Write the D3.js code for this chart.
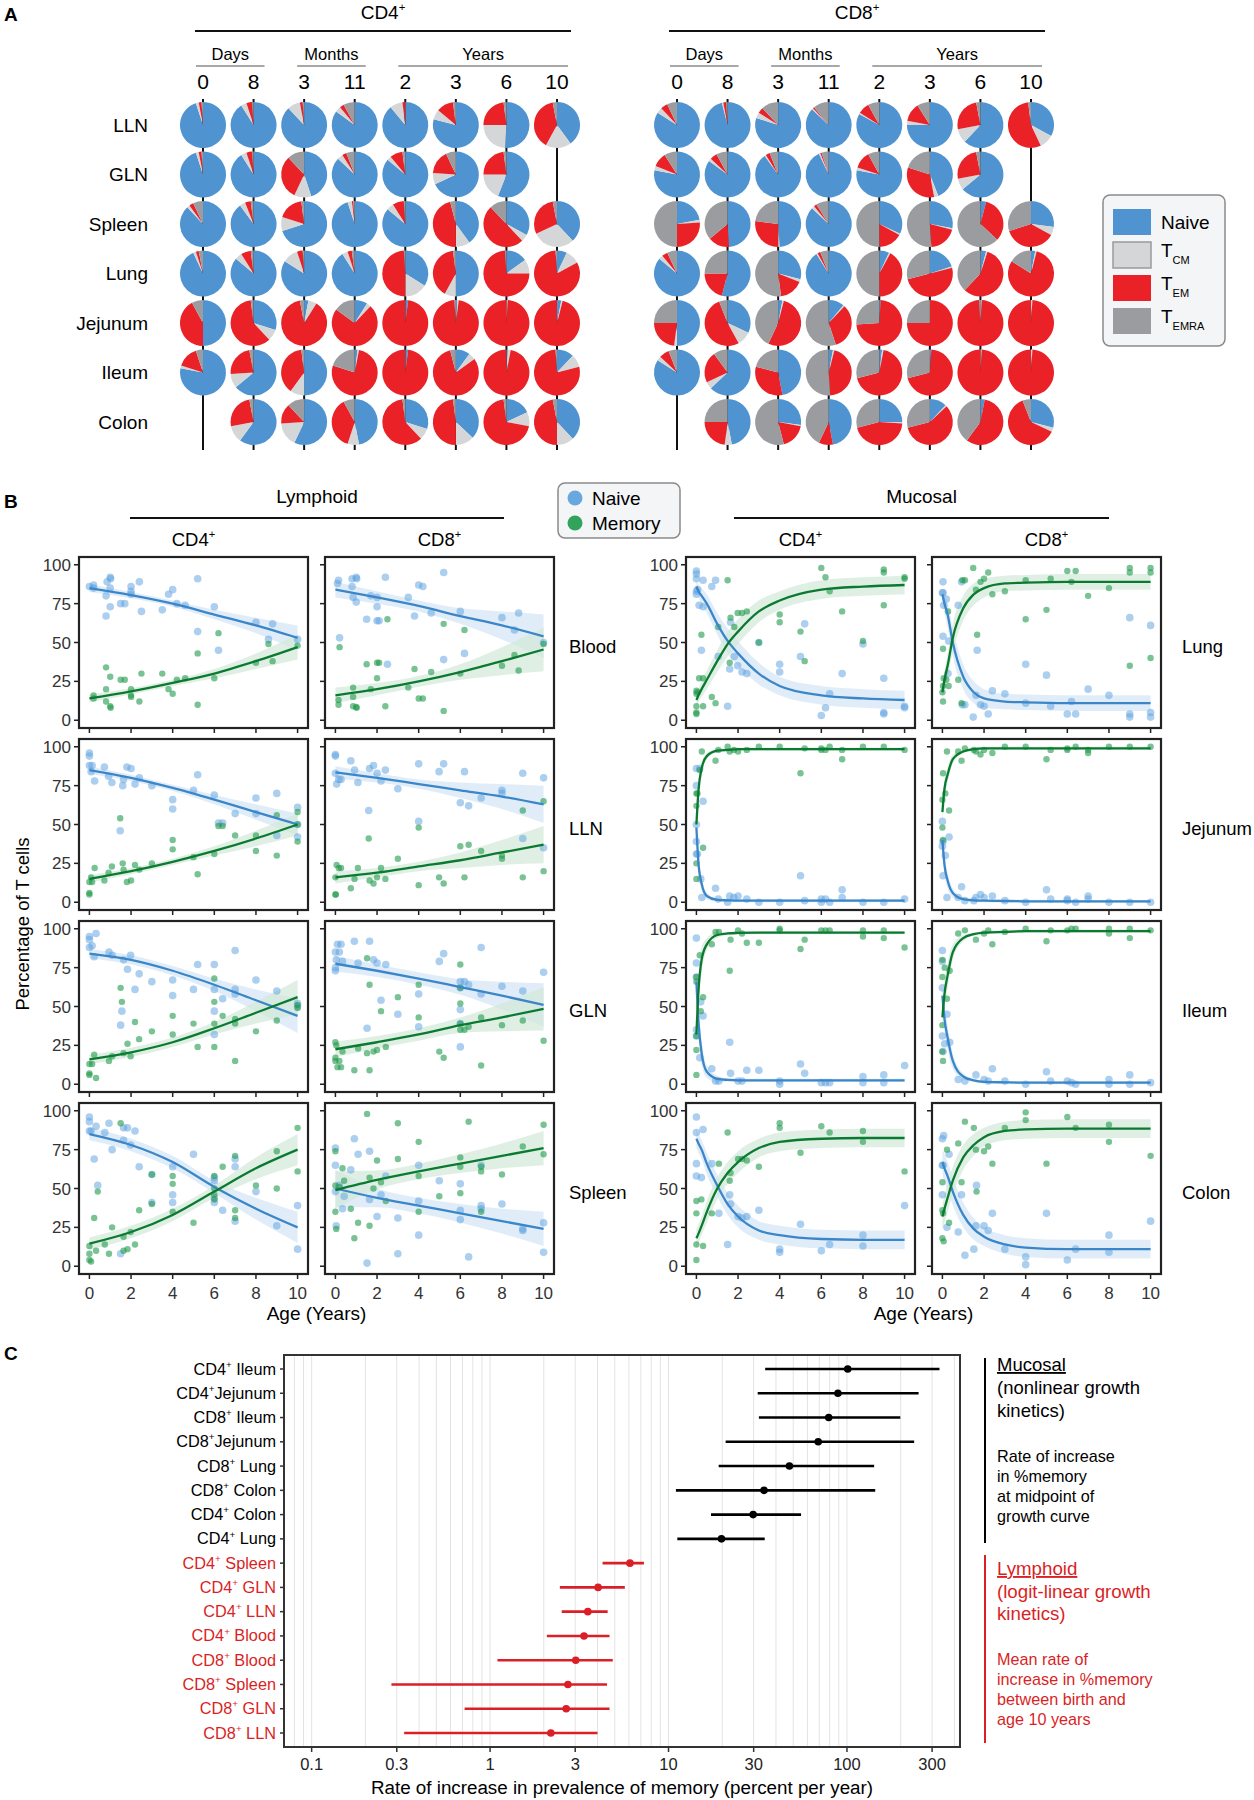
<!DOCTYPE html>
<html><head><meta charset="utf-8">
<script src="https://cdn.jsdelivr.net/npm/d3@7"></script>
<style>body{margin:0;background:#fff}text{font-family:"Liberation Sans",Arial,Helvetica,sans-serif}</style>
</head><body><svg id="c" width="1254" height="1800"></svg>
<script>
// ================= DATA =================
// Panel A
const pieTissues = ["LLN","GLN","Spleen","Lung","Jejunum","Ileum","Colon"];
const pieTimes = ["0","8","3","11","2","3","6","10"];
const pieGroupNames = ["Days","Months","Years"];
const pieGroupFrom = [0,2,4];
const pieGroupTo = [1,3,7];
const subsets = ["Naive","TCM","TEM","TEMRA"];
const subsetColors = ["#4f94d0","#d4d6d7","#ea2127","#9b9ca0"];
// [Naive, TCM, TEM, TEMRA] per tissue (rows) x time (cols)
const cd4Pies = [
 [[95,2,2,1],[91,4,4,1],[88,9,2,1],[85,4,3,8],[89,9,2,0],[79,7,12,2],[51,24,23,2],[40,18,39,3]],
 [[95,2,2,1],[91,4,4,1],[45,12,31,12],[87,4,3,6],[86,3,9,2],[68,8,17,7],[56,19,23,2],null],
 [[88,2,3,7],[90,4,4,2],[70,10,18,2],[95,3,1,1],[86,5,8,1],[40,10,46,4],[33,5,50,12],[38,30,29,3]],
 [[93,2,2,3],[86,5,7,2],[84,11,4,1],[91,4,3,2],[34,16,49,1],[50,8,40,2],[15,10,74,1],[7,10,82,1]],
 [[50,0,42,8],[30,8,60,2],[3,6,88,3],[9,3,73,15],[2,0,98,0],[1,1,97,1],[0,1,99,0],[3,1,96,0]],
 [[78,2,15,5],[64,10,23,3],[50,10,38,2],[2,1,77,20],[2,0,98,0],[10,5,81,4],[1,2,97,0],[12,9,78,1]],
 [null,[60,12,25,3],[57,17,14,12],[47,8,37,8],[30,8,60,2],[37,13,48,2],[18,10,70,2],[38,12,47,3]]
];
const cd8Pies = [
 [[84,4,5,7],[96,1,2,1],[80,4,4,12],[87,1,1,11],[83,1,8,8],[75,3,13,9],[62,10,25,3],[33,10,55,2]],
 [[78,3,10,9],[85,2,5,8],[90,1,3,6],[93,1,1,5],[78,2,12,8],[44,3,33,20],[64,8,25,3],null],
 [[22,2,26,50],[49,0,15,36],[49,1,27,23],[87,2,2,9],[32,1,17,50],[28,1,20,51],[4,0,33,63],[27,6,37,30]],
 [[86,3,4,7],[54,0,21,25],[29,2,17,52],[91,1,2,6],[7,1,42,50],[20,1,50,29],[4,1,57,38],[3,1,80,16]],
 [[50,2,23,25],[32,10,52,6],[3,1,53,43],[11,1,33,55],[1,0,73,26],[0,0,75,25],[0,1,98,1],[0,1,99,0]],
 [[84,3,7,6],[63,5,22,10],[47,0,32,21],[3,1,45,51],[2,1,68,29],[1,0,70,29],[0,1,99,0],[0,1,99,0]],
 [null,[47,5,23,25],[27,1,18,54],[47,0,10,43],[25,1,45,29],[12,1,58,29],[3,0,57,40],[29,3,62,6]]
];

// Panel B
const lymphTissues = ["Blood","LLN","GLN","Spleen"];
const mucTissues = ["Lung","Jejunum","Ileum","Colon"];
const yTicksB = [0,25,50,75,100];
const xTicksB = [0,2,4,6,8,10];
const lymphAges = [0,2,4,6,8,10];
const mucAges = [0,0.1,0.25,0.5,1,1.5,2,3,4,6,8,10];

const bloodCD4N = [[0,86],[0.2,87],[0.2,85],[0.85,89],[1,92],[1.02,91],[0.8,80],[0.8,67],[1,73],[1,85],[1.5,75],[1.7,75],[2,86],[2,83],[2,81],[2.4,89],[2.5,70],[3.5,71],[3.8,81],[4,84],[4.2,75],[4.6,74],[5.2,91],[5.2,57],[6,73],[6.2,45],[8,63],[8.8,62],[8.6,52],[10,52]];
const bloodCD4M = [[0.2,16],[0.2,14],[0.8,34],[1,28],[0.8,20],[0.8,12],[1,9],[1.02,8],[1.5,26],[1.7,26],[2,20],[2,16],[2,15],[2.4,12],[2.5,30],[3.5,30],[3.8,20],[4,17],[4.2,26],[4.6,27],[5.2,43],[5.2,10],[6,27],[6.2,56],[8,37],[8.6,49],[8.8,38],[10,48]];
const bloodCD8N = [[0.1,88],[0.15,90],[0.2,53],[0.8,91],[1,92],[1.02,91],[0.8,86],[0.85,79],[1,76],[1.5,65],[1.7,80],[2,79],[2,73],[2,64],[2.1,64],[2.4,92],[2.5,36],[3.5,79],[3.8,67],[4,87],[4.2,86],[4.6,69],[5.2,95],[5.2,39],[6,70],[6.2,43],[8,66],[8.6,58],[8.8,69],[10,50]];
const bloodCD8M = [[0.15,13],[0.15,10],[0.2,47],[0.85,21],[0.85,15],[0.85,9],[1,8.5],[1.02,8],[1.5,36],[1.7,20],[2,37],[2,27],[2.1,37],[2.4,9],[2.5,65],[3.5,21],[3.8,33],[4,14],[4.2,14],[4.6,31],[5.2,62],[5.2,6],[6,30],[6.2,58],[8,35],[8.6,42],[8.8,32],[10,49]];
const llnCD4N = [[0,96],[0,94],[0,88],[0.13,88],[0.08,84],[0.25,78],[0.72,87],[0.92,81],[1.08,77],[1.48,46],[1.6,75],[1.64,79],[1.8,87],[2,86],[2.19,76],[2.4,80],[3,75],[4,66],[4,60],[5.2,82],[5,72],[6,69],[6.2,51],[6.4,51],[7,57],[8,67],[8,57],[9,70],[9,43],[10,61],[10,50],[10,42]];
const llnCD4M = [[0,6],[0,5],[0,13],[0.13,13],[0.08,16],[0.25,22],[0.72,14],[0.92,19],[1.08,23],[1.48,54],[1.6,25],[1.64,21],[1.8,13],[2,14],[2.19,24],[2.4,21],[3,25],[4,40],[4,34],[5.2,18],[5,29],[6,31],[6.2,49],[6.4,49],[7,43],[8,43],[8,33],[9,56],[9,30],[10,58],[10,50],[10,39]];
const llnCD8N = [[0,95],[0,94],[0,83],[0.06,76],[0.16,79],[0.27,79],[0.74,91],[0.92,85],[1.08,77],[1.6,59],[1.64,86],[1.83,88],[2,83],[2.19,78],[2.4,85],[3,73],[4,89],[4,52],[4.98,84],[5.2,89],[6,64],[6.2,84],[6.4,62],[7,67],[8,72],[8,70],[9,83],[9,41],[10,80],[10,35]];
const llnCD8M = [[0,5],[0.02,5],[0,16],[0.06,24],[0.16,22],[0.27,22],[0.74,9],[0.92,15],[1.08,22],[1.6,41],[1.64,14],[1.83,12],[2,16],[2.19,22],[2.4,15],[3,28],[4,11],[4,48],[4.98,16],[5.2,12],[6,36],[6.2,16],[6.4,37],[7,33],[8,30],[8,28],[9,16],[9,59],[10,20],[10,65]];
const glnCD4N = [[0,95],[0,93],[0,88],[0.13,89],[0.23,82],[0.32,97],[0.94,85],[1.09,83],[1.56,47],[1.5,38],[1.64,80],[1.83,74],[1.98,83],[2.19,61],[2.39,71],[3,66],[4,67],[4,57],[5,61],[5.2,77],[6,77],[6,61],[6,47],[6,32],[6.4,55],[7,86],[7,61],[7,58],[8,67],[9,60],[10,52],[10,50]];
const glnCD4M = [[0,7],[0,6],[0,13],[0.13,13],[0.23,19],[0.32,4],[0.94,15],[1.09,18],[1.5,62],[1.56,53],[1.64,20],[1.83,26],[1.98,18],[2.19,40],[2.39,29],[3,34],[4,44],[4,32],[5,39],[5.2,24],[6,53],[6,68],[6,39],[6,24],[6.4,44],[7,42],[7,39],[7,15],[8,34],[9,41],[10,49],[10,51]];
const glnCD8N = [[0,85],[0.04,80],[0,73],[0,75],[0.1,90],[0.19,85],[0.27,90],[0.34,79],[0.91,92],[1.09,78],[1.52,36],[1.64,92],[1.83,80],[2,78],[2.19,54],[2.42,77],[3,45],[4,58],[4,37],[4.99,79],[5.2,84],[6,66],[6,62],[6,48],[6,39],[6,24],[6.2,66],[6.4,64],[7,88],[7,58],[8,63],[9,60],[10,72]];
const glnCD8M = [[0,27],[0.04,25],[0,17],[0,15],[0.1,11],[0.19,15],[0.27,11],[0.34,21],[0.91,9],[1.09,23],[1.52,20],[1.52,81],[1.64,9],[1.64,64],[1.83,21],[2,22],[2.19,47],[2.42,24],[3,56],[4,64],[4,43],[4.99,21],[5.2,17],[6,77],[6,62],[6,52],[6,39],[6,35],[6.2,35],[6.4,37],[7,43],[7,12],[8,38],[9,41],[10,28]];
const spleenCD4N = [[0,96],[0,93],[0,87],[0.08,87],[0.23,69],[0.32,90],[0.4,52],[0.74,86],[0.94,92],[1.09,75],[1.5,8],[1.64,81],[1.64,89],[1.83,89],[1.98,78],[2.19,87],[2.39,64],[3,59],[3,41],[4,64],[4,46],[4,41],[5,72],[6,57],[6,55],[6,44],[6,41],[6.4,36],[7,69],[7,64],[7,29],[8,48],[9,26],[10,39],[10,11]];
const spleenCD4M = [[0,13],[0,8],[0,4],[0.08,3],[0.23,31],[0.32,10],[0.4,48],[0.74,14],[0.94,8],[1.09,25],[1.5,92],[1.64,19],[1.64,10],[1.83,11],[1.98,22],[2.19,14],[2.39,36],[3,59],[3,40],[4,58],[4,53],[4,35],[5,28],[6,58],[6,50],[6,46],[6,43],[6.4,64],[7,71],[7,36],[7,31],[8,52],[9,74],[9,50],[10,89],[10,61]];
const spleenCD8N = [[0,76],[0,65],[0,48],[0.04,26],[0.19,52],[0.34,37],[0.42,45],[0.74,62],[0.91,82],[1.09,72],[1.52,2],[1.64,74],[1.64,43],[2,32],[2.19,46],[2.42,58],[3,31],[3,8],[4,65],[4,42],[4,20],[4.99,55],[6,53],[6,36],[6,30],[6.4,6],[7,65],[7,39],[7,37],[8,40],[9,24],[9,23],[10,28],[10,9]];
const spleenCD8M = [[0,74],[0,35],[0.04,24],[0,52],[0.19,51],[0.34,63],[0.42,55],[0.74,37],[0.91,18],[1.09,28],[1.52,98],[1.64,57],[1.64,26],[1.83,50],[2,68],[2.19,54],[2.42,42],[3,92],[3,69],[4,80],[4,58],[4,35],[4.99,45],[6,70],[6,64],[6,47],[6.4,93],[7,64],[7,61],[7,35],[8,59],[9,77],[10,91],[10,72]];
const lungCD4N = [[0,96],[0,94],[0,91],[0,83],[0,81],[0.06,84],[0.13,74],[0.24,45],[0.32,90],[0.32,73],[0.74,86],[0.92,90],[1.05,41],[1.5,9],[1.6,33],[1.64,63],[1.82,41],[1.98,35],[2.19,31],[2.42,30],[3,50],[4,36],[4,31],[5,41],[5.2,62],[6,3],[6.2,8],[6.4,17],[7,30],[8,49],[9,27],[9,5],[9,4],[10,9],[10,8]];
const lungCD4M = [[0,9],[0,5],[0,4],[0,19],[0,17],[0.06,18],[0.13,27],[0.24,55],[0.32,27],[0.32,9],[0.74,15],[0.92,11],[1.05,60],[1.5,90],[1.6,37],[1.64,66],[1.82,60],[1.98,69],[2.19,69],[2.42,70],[3,50],[4,68],[4,63],[5,57],[5.2,38],[6,98],[6.2,92],[6.4,83],[7,70],[8,51],[9,74],[9,97],[9,95],[10,92],[10,91]];
const lungCD8N = [[0.03,89],[0,82],[0.03,82],[0.03,54],[0.06,74],[0.19,78],[0.27,30],[0.3,51],[0.76,74],[0.92,89],[0.96,10],[1.08,10],[1.48,2],[1.61,16],[1.67,45],[1.83,10],[2,9],[2.2,4],[2.4,19],[3,17],[4,36],[4,11],[5,29],[5.2,9],[6,4],[6.2,12],[6.4,4],[7,20],[8,16],[9,66],[9,4],[9,2],[10,61],[10,5],[10,2]];
const lungCD8M = [[0.03,22],[0,18],[0.03,46],[0.03,12],[0.06,27],[0.19,26],[0.27,70],[0.3,22],[0.76,26],[0.92,11],[0.96,90],[1.08,90],[1.48,98],[1.61,84],[1.67,55],[1.83,89],[2,91],[2.2,95],[2.4,81],[3,83],[4,90],[4,65],[5,71],[5.2,91],[6,96],[6.2,89],[6.4,96],[7,80],[8,85],[9,35],[9,98],[9,95],[10,40],[10,98],[10,95]];
const jejCD4N = [[0,75],[0,86],[0,50],[0,39],[0,31],[0.05,31],[0.16,86],[0.21,15],[0.32,65],[0.26,3],[0.92,9],[1.05,2],[1.5,0],[1.6,4],[1.8,3],[2,4],[2.42,2],[3,0],[4,0],[5.2,1],[5,17],[6,2],[6,0],[6.2,2],[6.4,0],[7,3],[7,8],[8,0],[9,0],[10,2]];
const jejCD4M = [[0,25],[0,15],[0,62],[0,70],[0.05,70],[0.16,85],[0.26,97],[0.32,35],[0.92,91],[1.05,98],[1.5,100],[1.6,97],[1.8,98],[2,97],[2.42,98],[3,100],[4,100],[5.2,99],[5,83],[6,99],[6,98],[6.2,98],[6.4,100],[7,98],[7,92],[8,100],[9,100],[10,98]];
const jejCD8N = [[0,52],[0,36],[0.03,39],[0.03,17],[0.14,30],[0.22,3],[0.32,42],[0.76,3],[0.92,10],[1.08,1],[1.51,1],[1.61,3],[1.83,5],[2,3],[2.4,4],[3,1],[4,0],[5,8],[5.2,2],[6,2],[6,1],[6.4,0],[7,4],[7,2],[8,0],[9,0],[10,0]];
const jejCD8M = [[0,66],[0,48],[0.03,40],[0.03,83],[0.14,70],[0.22,97],[0.32,59],[0.76,97],[0.92,91],[1.08,99],[1.51,98],[1.61,97],[1.83,95],[2,98],[2.4,96],[3,100],[4,100],[5,92],[5.2,98],[6,99],[6,98],[6.4,100],[7,98],[7,96],[8,100],[9,100],[10,100]];
const ileCD4N = [[0,94],[0,78],[0,69],[0,35],[0,31],[0.16,17],[0.21,53],[0.32,44],[0.74,10],[0.92,2],[1.08,2],[1.6,27],[1.64,7],[2,2],[2.19,2],[2.42,9],[3,9],[4,2],[4,0],[5,13],[5.2,7],[6,1],[6.2,1],[6.4,1],[8,5],[8,1],[9,6],[9,1],[10,12]];
const ileCD4M = [[0,6],[0,66],[0,69],[0,31],[0,22],[0.16,83],[0.21,47],[0.32,56],[0.74,90],[0.92,98],[1.08,98],[1.6,73],[1.64,93],[2,99],[2.19,97],[2.42,91],[3,91],[4,100],[4,99],[5,87],[5.2,93],[6,99],[6.2,99],[6.4,99],[8,99],[8,95],[9,99],[9,94],[10,88]];
const ileCD8N = [[0,86],[0,79],[0,62],[0,31],[0.03,21],[0.11,26],[0.22,45],[0.35,27],[0.76,3],[1.08,2],[1.61,6],[2,3],[2.2,2],[2.4,10],[3,2],[4,0],[5,8],[5.2,2],[6,2],[6.2,1],[6.4,0],[8,3],[8,0],[9,6],[9,0],[10,1]];
const ileCD8M = [[0,69],[0,80],[0,38],[0,21],[0.03,15],[0.11,75],[0.22,55],[0.35,73],[0.76,97],[1.08,99],[1.61,93],[2,97],[2.2,99],[2.4,90],[3,98],[4,100],[5,92],[5.2,99],[6,99],[6.2,100],[6.4,100],[8,100],[8,97],[9,100],[9,94],[10,99]];
const colCD4N = [[0,96],[0,86],[0,66],[0,58],[0.24,57],[0.32,88],[0.74,66],[1.08,34],[1.5,14],[1.6,46],[1.64,40],[2,32],[2.19,31],[2.42,32],[3,36],[4,11],[4,9],[5,27],[6,10],[6.4,14],[8,20],[8,13],[10,39]];
const colCD4M = [[0,4],[0,14],[0,42],[0,34],[0.24,43],[0.32,13],[0.74,34],[1.08,66],[1.5,86],[1.6,55],[1.64,60],[2,69],[2.19,69],[2.42,68],[3,64],[4,92],[4,89],[5,73],[6,90],[6.4,86],[8,87],[8,80],[10,61]];
const colCD8N = [[0,82],[0.06,84],[0,65],[0.03,65],[0,46],[0.22,25],[0.32,72],[0.76,22],[0.92,46],[1.08,7],[1.51,11],[1.64,52],[1.61,26],[2,26],[2.2,23],[2.4,34],[3,11],[4,6],[4,1],[5,34],[6,4],[6.4,11],[8,20],[8,9],[10,29]];
const colCD8M = [[0,18],[0.06,16],[0,36],[0.03,34],[0,54],[0.22,75],[0.32,28],[0.76,79],[0.92,54],[1.08,93],[1.51,89],[1.64,48],[1.61,75],[2,74],[2.2,77],[2.4,66],[3,89],[4,99],[4,94],[5,66],[6,96],[6.4,89],[8,91],[8,80],[10,71]];

// fitted curves (read at lymphAges / mucAges) and CI half-widths
const bloodCD4FitN=[85,80.5,75,68,61,53], bloodCD4FitM=[14,18.5,24,30,38,47], bloodCD4Ci=[2.5,2,2,3,5,8];
const bloodCD8FitN=[84,79,73.5,67,61,54], bloodCD8FitM=[16,20,25,31,38,45.5], bloodCD8Ci=[5,4,3.5,5,9,14];
const llnCD4FitN=[85,80,73.5,66,58,50], llnCD4FitM=[15,20,26,33,41,50], llnCD4Ci=[2.5,2,2,3,5,7];
const llnCD8FitN=[83.5,80,76,72,68,63], llnCD8FitM=[16,19,23,27,32,37], llnCD8Ci=[4,3,3,5,8,12];
const glnCD4FitN=[84,80,73,64,54,44], glnCD4FitM=[16,20.5,27,36,46,56], glnCD4Ci=[3,3,3,4,7,11];
const glnCD8FitN=[77.5,73,68,62.5,57,51], glnCD8FitM=[22.5,27,32,38,43,48.5], glnCD8Ci=[5,4,4,5,9,14];
const spleenCD4FitN=[85,78,67,51,37,25], spleenCD4FitM=[14.5,22,33,48,63,75], spleenCD4Ci=[4,4,4,4,7,10];
const spleenCD8FitN=[50,44,39,34,29,24], spleenCD8FitM=[49,55.5,61,66,71,76], spleenCD8Ci=[12,6,5,6,8,11];
const lungCD4FitN=[86,83,80,75,62,51,43,30,22,16,14,13], lungCD4FitM=[13,16,20,26,38,49,57,70,77,84,86,87], lungCD4Ci=[4,4,5,6,7,8,8,7,6,6,6,6];
const lungCD8FitN=[81,75,68,50,28,18,14,12,11.5,11,11,11], lungCD8FitM=[18,26,35,53,72,81,85,88,88.5,89,89,89], lungCD8Ci=[4,6,8,9,8,7,6,5,5,5,5,5];
const jejCD4FitN=[48,25,12,4,1.5,1.2,1,1,1,1,1,1], jejCD4FitM=[50,72,86,94,97.5,98,98.5,98.5,98.5,98.5,98.5,98.5], jejCD4Ci=[5,6,4,2,1,1,1,1,1,1,1,1];
const jejCD8FitN=[40,24,14,6,2,1.2,1,0.8,0.6,0.5,0.5,0.5], jejCD8FitM=[58,73,82,92,97,98.5,99,99,99,99,99,99], jejCD8Ci=[5,6,5,3,1,1,1,1,1,1,1,1];
const ileCD4FitN=[66,40,20,8,3.5,2.8,2.5,2.5,2.5,2.5,2.5,2.5], ileCD4FitM=[32,60,80,90,96,97,97.3,97.5,97.5,97.5,97.5,97.5], ileCD4Ci=[6,8,8,4,2,1,1,1,1,1,1,1];
const ileCD8FitN=[57,42,30,15,5,2.5,1.5,1.2,1,1,1,1], ileCD8FitM=[43,58,70,85,94,96.5,97.5,98,98.5,98.5,98.5,98.5], ileCD8Ci=[6,8,8,5,2,1,1,1,1,1,1,1];
const colCD4FitN=[82,79,75,66,52,40,32,23,20,17.5,17,17], colCD4FitM=[18,21,26,35,50,60,67,76,80,82,82.5,82.5], colCD4Ci=[6,6,6,7,7,7,7,6,6,6,6,6];
const colCD8FitN=[67,63,58,48,33,24,19,14,12,11,11,11], colCD8FitM=[32,37,44,55,70,78,83,87,88,88.5,88.5,88.5], colCD8Ci=[8,9,9,9,8,7,6,6,6,6,6,6];

// Panel C
const rateLabels = ["CD4+ Ileum","CD4+Jejunum","CD8+ Ileum","CD8+Jejunum","CD8+ Lung","CD8+ Colon","CD4+ Colon","CD4+ Lung",
  "CD4+ Spleen","CD4+ GLN","CD4+ LLN","CD4+ Blood","CD8+ Blood","CD8+ Spleen","CD8+ GLN","CD8+ LLN"];
const rateEst  = [101,89,79,69,47.6,34.3,29.8,19.8,6.08,4.03,3.53,3.36,3.02,2.73,2.67,2.19];
const rateLow  = [34.8,31.6,32.1,20.9,19.1,11.0,17.3,11.2,4.27,2.46,2.52,2.08,1.10,0.28,0.72,0.33];
const rateHigh = [330,252,199,238,142,144,55.3,34.6,7.28,5.69,4.56,4.67,4.87,4.52,4.67,4.0];
const rateGroup = ["mucosal","mucosal","mucosal","mucosal","mucosal","mucosal","mucosal","mucosal",
  "lymphoid","lymphoid","lymphoid","lymphoid","lymphoid","lymphoid","lymphoid","lymphoid"];
const rateTicks = [0.1,0.3,1,3,10,30,100,300];
const mucosalNote = ["Rate of increase","in %memory","at midpoint of","growth curve"];
const lymphoidNote = ["Mean rate of","increase in %memory","between birth and","age 10 years"];

// ================= DRAWING =================
const svg = d3.select("#c");
const RED = "#da1f26";
function txt(g, x, y, str, o) {
  o = o || {};
  const fs = o.size || 16;
  const t = g.append("text").attr("x", x).attr("y", y).attr("font-size", fs)
    .attr("fill", o.fill || "#000").attr("text-anchor", o.anchor || "start");
  if (o.weight) t.attr("font-weight", o.weight);
  if (o.deco) t.attr("text-decoration", o.deco);
  if (o.transform) t.attr("transform", o.transform);
  const parts = str.split("+");
  parts.forEach((p, i) => {
    if (i > 0) {
      t.append("tspan").attr("font-size", fs * 0.6).attr("dy", -fs * 0.42).text("+");
      if (p !== "") t.append("tspan").attr("font-size", fs).attr("dy", fs * 0.42).text(p);
    } else if (p !== "") t.append("tspan").attr("font-size", fs).text(p);
  });
  return t;
}

// ---------- Panel A ----------
const gA = svg.append("g");
txt(gA, 4, 21, "A", {size: 19, weight: "bold"});
const pieGen = d3.pie().sort(null).value(d => d);
const arcGen = d3.arc().innerRadius(0).outerRadius(23);
const rowY = d3.scalePoint().domain(pieTissues).range([125, 422]);
function pieBlock(data, xr, header) {
  const colX = d3.scalePoint().domain(d3.range(pieTimes.length)).range(xr);
  const first = colX(0), last = colX(pieTimes.length - 1);
  gA.append("line").attr("x1", first - 8).attr("x2", last + 14).attr("y1", 31).attr("y2", 31)
    .attr("stroke", "#111").attr("stroke-width", 2.2);
  txt(gA, (first - 8 + last + 14) / 2, 19, header, {size: 19, anchor: "middle"});
  pieGroupNames.forEach((nm, i) => {
    const a = colX(pieGroupFrom[i]) - 7, b = colX(pieGroupTo[i]) + 11;
    gA.append("line").attr("x1", a).attr("x2", b).attr("y1", 66).attr("y2", 66)
      .attr("stroke", "#a8a8a8").attr("stroke-width", 2);
    txt(gA, (a + b) / 2, 60, nm, {size: 16.5, anchor: "middle"});
  });
  pieTimes.forEach((t, i) => {
    txt(gA, colX(i), 89, t, {size: 21, anchor: "middle"});
    gA.append("line").attr("x1", colX(i)).attr("x2", colX(i)).attr("y1", 99).attr("y2", 450)
      .attr("stroke", "#111").attr("stroke-width", 2);
  });
  data.forEach((row, ri) => row.forEach((vals, ci) => {
    if (!vals) return;
    const g = gA.append("g").attr("transform", `translate(${colX(ci)},${rowY(pieTissues[ri])})`);
    g.selectAll("path").data(pieGen(vals)).join("path").attr("d", arcGen)
      .attr("fill", (d, k) => subsetColors[k]);
  }));
}
pieBlock(cd4Pies, [203, 557], "CD4+");
pieBlock(cd8Pies, [677, 1031], "CD8+");
pieTissues.forEach(t => txt(gA, 148, rowY(t) + 6.5, t, {size: 19, anchor: "end"}));
// legend A
gA.append("rect").attr("x", 1103).attr("y", 195).attr("width", 122).attr("height", 151).attr("rx", 7)
  .attr("fill", "#f4f5f7").attr("stroke", "#8a8a8a").attr("stroke-width", 1.5);
const legY = d3.scalePoint().domain(subsets).range([209, 308]);
subsets.forEach((s, i) => {
  const y = legY(s);
  gA.append("rect").attr("x", 1113).attr("y", y).attr("width", 38).attr("height", 26)
    .attr("fill", subsetColors[i]).attr("stroke", i === 1 ? "#9a9a9a" : "none").attr("stroke-width", 1.5);
  if (i === 0) txt(gA, 1161, y + 20, "Naive", {size: 19});
  else {
    const t = gA.append("text").attr("x", 1161).attr("y", y + 15).attr("font-size", 19);
    t.append("tspan").attr("font-size", 19).text("T");
    t.append("tspan").attr("font-size", 11).attr("dy", 7).text(s.slice(1));
  }
});

// ---------- Panel B ----------
const gB = svg.append("g");
txt(gB, 4, 508, "B", {size: 19, weight: "bold"});
const PW = 229, PH = 171;
const lymphLefts = [79, 325], mucLefts = [686, 932];
const rowTops = d3.range(4).map(i => 557 + i * 182);
function groupHeader(lefts, title, lineA, lineB) {
  txt(gB, (lineA + lineB) / 2, 503, title, {size: 19, anchor: "middle"});
  gB.append("line").attr("x1", lineA).attr("x2", lineB).attr("y1", 518).attr("y2", 518)
    .attr("stroke", "#111").attr("stroke-width", 2.2);
  txt(gB, lefts[0] + PW / 2, 546, "CD4+", {size: 18.5, anchor: "middle"});
  txt(gB, lefts[1] + PW / 2, 546, "CD8+", {size: 18.5, anchor: "middle"});
}
groupHeader(lymphLefts, "Lymphoid", 130, 504);
groupHeader(mucLefts, "Mucosal", 734, 1109);

const panels = [
  {left:79, row:0, ages:lymphAges, n:bloodCD4N, m:bloodCD4M, fn:bloodCD4FitN, fm:bloodCD4FitM, ci:bloodCD4Ci, lab:true},
  {left:325, row:0, ages:lymphAges, n:bloodCD8N, m:bloodCD8M, fn:bloodCD8FitN, fm:bloodCD8FitM, ci:bloodCD8Ci},
  {left:79, row:1, ages:lymphAges, n:llnCD4N, m:llnCD4M, fn:llnCD4FitN, fm:llnCD4FitM, ci:llnCD4Ci, lab:true},
  {left:325, row:1, ages:lymphAges, n:llnCD8N, m:llnCD8M, fn:llnCD8FitN, fm:llnCD8FitM, ci:llnCD8Ci},
  {left:79, row:2, ages:lymphAges, n:glnCD4N, m:glnCD4M, fn:glnCD4FitN, fm:glnCD4FitM, ci:glnCD4Ci, lab:true},
  {left:325, row:2, ages:lymphAges, n:glnCD8N, m:glnCD8M, fn:glnCD8FitN, fm:glnCD8FitM, ci:glnCD8Ci},
  {left:79, row:3, ages:lymphAges, n:spleenCD4N, m:spleenCD4M, fn:spleenCD4FitN, fm:spleenCD4FitM, ci:spleenCD4Ci, lab:true},
  {left:325, row:3, ages:lymphAges, n:spleenCD8N, m:spleenCD8M, fn:spleenCD8FitN, fm:spleenCD8FitM, ci:spleenCD8Ci},
  {left:686, row:0, ages:mucAges, n:lungCD4N, m:lungCD4M, fn:lungCD4FitN, fm:lungCD4FitM, ci:lungCD4Ci, lab:true},
  {left:932, row:0, ages:mucAges, n:lungCD8N, m:lungCD8M, fn:lungCD8FitN, fm:lungCD8FitM, ci:lungCD8Ci},
  {left:686, row:1, ages:mucAges, n:jejCD4N, m:jejCD4M, fn:jejCD4FitN, fm:jejCD4FitM, ci:jejCD4Ci, lab:true},
  {left:932, row:1, ages:mucAges, n:jejCD8N, m:jejCD8M, fn:jejCD8FitN, fm:jejCD8FitM, ci:jejCD8Ci},
  {left:686, row:2, ages:mucAges, n:ileCD4N, m:ileCD4M, fn:ileCD4FitN, fm:ileCD4FitM, ci:ileCD4Ci, lab:true},
  {left:932, row:2, ages:mucAges, n:ileCD8N, m:ileCD8M, fn:ileCD8FitN, fm:ileCD8FitM, ci:ileCD8Ci},
  {left:686, row:3, ages:mucAges, n:colCD4N, m:colCD4M, fn:colCD4FitN, fm:colCD4FitM, ci:colCD4Ci, lab:true},
  {left:932, row:3, ages:mucAges, n:colCD8N, m:colCD8M, fn:colCD8FitN, fm:colCD8FitM, ci:colCD8Ci}
];
const NB = {pt:"#5aa0e0", line:"#3a86c8", band:"#d6e7f7"};
const MB = {pt:"#1f9a4b", line:"#0b7a31", band:"#d2e8d8"};
panels.forEach((p, idx) => {
  const top = rowTops[p.row];
  const x = d3.scaleLinear().domain([-0.5, 10.5]).range([p.left, p.left + PW]);
  const y = d3.scaleLinear().domain([-5, 105]).range([top + PH, top]);
  const g = gB.append("g");
  const cid = "clip" + idx;
  g.append("clipPath").attr("id", cid).append("rect").attr("x", p.left).attr("y", top).attr("width", PW).attr("height", PH);
  const inner = g.append("g").attr("clip-path", `url(#${cid})`);
  const fitN = p.ages.map((a, i) => [a, p.fn[i], p.ci[i]]);
  const fitM = p.ages.map((a, i) => [a, p.fm[i], p.ci[i]]);
  const area = d3.area().x(d => x(d[0])).y0(d => y(d[1] - d[2])).y1(d => y(d[1] + d[2])).curve(d3.curveMonotoneX);
  const line = d3.line().x(d => x(d[0])).y(d => y(d[1])).curve(d3.curveMonotoneX);
  inner.append("path").attr("d", area(fitN)).attr("fill", NB.band).attr("opacity", 0.75);
  inner.append("path").attr("d", area(fitM)).attr("fill", MB.band).attr("opacity", 0.7);
  inner.selectAll(".pn").data(p.n).join("circle").attr("cx", d => x(d[0])).attr("cy", d => y(d[1]))
    .attr("r", 3.8).attr("fill", NB.pt).attr("opacity", 0.5);
  inner.selectAll(".pm").data(p.m).join("circle").attr("cx", d => x(d[0])).attr("cy", d => y(d[1]))
    .attr("r", 3.2).attr("fill", MB.pt).attr("opacity", 0.6);
  inner.append("path").attr("d", line(fitN)).attr("fill", "none").attr("stroke", NB.line).attr("stroke-width", 2.3);
  inner.append("path").attr("d", line(fitM)).attr("fill", "none").attr("stroke", MB.line).attr("stroke-width", 2.3);
  g.append("rect").attr("x", p.left).attr("y", top).attr("width", PW).attr("height", PH)
    .attr("fill", "none").attr("stroke", "#222").attr("stroke-width", 2.2);
  yTicksB.forEach(v => {
    g.append("line").attr("x1", p.left - 5).attr("x2", p.left).attr("y1", y(v)).attr("y2", y(v)).attr("stroke", "#222").attr("stroke-width", 1.5);
    if (p.lab) txt(g, p.left - 8, y(v) + 6, String(v), {size: 17, anchor: "end", fill: "#333"});
  });
  xTicksB.forEach(v => {
    g.append("line").attr("x1", x(v)).attr("x2", x(v)).attr("y1", top + PH).attr("y2", top + PH + 5).attr("stroke", "#222").attr("stroke-width", 1.5);
    if (p.row === 3) txt(g, x(v), 1299, String(v), {size: 17, anchor: "middle", fill: "#333"});
  });
});
lymphTissues.forEach((t, i) => txt(gB, 569, rowTops[i] + 96, t, {size: 18.5}));
mucTissues.forEach((t, i) => txt(gB, 1182, rowTops[i] + 96, t, {size: 18.5}));
txt(gB, (79 + 554) / 2, 1320, "Age (Years)", {size: 19, anchor: "middle"});
txt(gB, (686 + 1161) / 2, 1320, "Age (Years)", {size: 19, anchor: "middle"});
txt(gB, 0, 0, "Percentage of T cells", {size: 18.5, anchor: "middle", transform: "translate(29,924) rotate(-90)"});
// legend B
gB.append("rect").attr("x", 558).attr("y", 483).attr("width", 122).attr("height", 55).attr("rx", 7)
  .attr("fill", "#f4f5f7").attr("stroke", "#8a8a8a").attr("stroke-width", 1.5);
[["Naive", "#5a9fdc"], ["Memory", "#1c9a4a"]].forEach((d, i) => {
  gB.append("circle").attr("cx", 575).attr("cy", 498 + i * 25).attr("r", 7.5).attr("fill", d[1]).attr("opacity", 0.9);
  txt(gB, 592, 505 + i * 25, d[0], {size: 19});
});

// ---------- Panel C ----------
const gC = svg.append("g");
txt(gC, 4, 1360, "C", {size: 19, weight: "bold"});
const cL = 284, cR = 960, cT = 1355, cB = 1747;
const xC = d3.scaleLog().domain([0.07, 430]).range([cL, cR]);
const yC = d3.scalePoint().domain(rateLabels).range([1369, 1733]);
for (let k = -2; k <= 2; k++) for (let n = 1; n <= 9; n++) {
  const v = n * Math.pow(10, k);
  if (v < 0.07 || v > 430) continue;
  gC.append("line").attr("x1", xC(v)).attr("x2", xC(v)).attr("y1", cT).attr("y2", cB)
    .attr("stroke", "#e3e3e3").attr("stroke-width", 1);
}
rateLabels.forEach((lab, i) => {
  const col = rateGroup[i] === "mucosal" ? "#000" : RED;
  const y = yC(lab);
  gC.append("line").attr("x1", xC(rateLow[i])).attr("x2", xC(rateHigh[i])).attr("y1", y).attr("y2", y)
    .attr("stroke", col).attr("stroke-width", 2.6);
  gC.append("circle").attr("cx", xC(rateEst[i])).attr("cy", y).attr("r", 3.8).attr("fill", col);
  gC.append("line").attr("x1", cL - 4).attr("x2", cL).attr("y1", y).attr("y2", y).attr("stroke", "#333").attr("stroke-width", 1.5);
  txt(gC, cL - 8, y + 5.5, lab, {size: 16.3, anchor: "end", fill: col});
});
gC.append("rect").attr("x", cL).attr("y", cT).attr("width", cR - cL).attr("height", cB - cT)
  .attr("fill", "none").attr("stroke", "#333").attr("stroke-width", 2);
rateTicks.forEach(v => {
  gC.append("line").attr("x1", xC(v)).attr("x2", xC(v)).attr("y1", cB).attr("y2", cB + 5).attr("stroke", "#333").attr("stroke-width", 1.5);
  txt(gC, xC(v), 1770, String(v), {size: 16.5, anchor: "middle", fill: "#222"});
});
txt(gC, (cL + cR) / 2, 1794, "Rate of increase in prevalence of memory (percent per year)", {size: 18.8, anchor: "middle"});
// annotations
gC.append("line").attr("x1", 985).attr("x2", 985).attr("y1", 1358).attr("y2", 1543).attr("stroke", "#000").attr("stroke-width", 2);
gC.append("line").attr("x1", 985).attr("x2", 985).attr("y1", 1555).attr("y2", 1743).attr("stroke", RED).attr("stroke-width", 2);
txt(gC, 997, 1371, "Mucosal", {size: 18.5, deco: "underline"});
txt(gC, 997, 1394, "(nonlinear growth", {size: 18.5});
txt(gC, 997, 1417, "kinetics)", {size: 18.5});
mucosalNote.forEach((s, i) => txt(gC, 997, 1462 + i * 20, s, {size: 16.2}));
txt(gC, 997, 1575, "Lymphoid", {size: 18.7, deco: "underline", fill: RED});
txt(gC, 997, 1598, "(logit-linear growth", {size: 18.7, fill: RED});
txt(gC, 997, 1620, "kinetics)", {size: 18.7, fill: RED});
lymphoidNote.forEach((s, i) => txt(gC, 997, 1665 + i * 20, s, {size: 16.2, fill: RED}));
</script></body></html>
